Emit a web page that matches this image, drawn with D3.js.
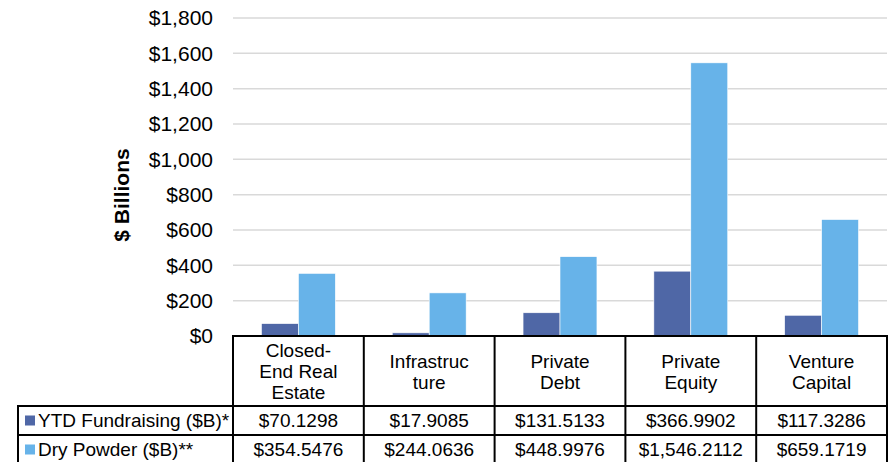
<!DOCTYPE html>
<html>
<head>
<meta charset="utf-8">
<script src="https://cdn.jsdelivr.net/npm/d3@7"></script>
<style>
  html, body { margin: 0; padding: 0; background: #ffffff; }
  svg { display: block; font-family: "Liberation Sans", Arial, sans-serif; }
</style>
</head>
<body>
<svg id="chart" width="892" height="462"></svg>
<script>
// ---- data ----
const categories = ["Closed-End Real Estate", "Infrastructure", "Private Debt", "Private Equity", "Venture Capital"];
const categoryLines = [["Closed-", "End Real", "Estate"], ["Infrastruc", "ture"], ["Private", "Debt"], ["Private", "Equity"], ["Venture", "Capital"]];
const seriesNames = ["YTD Fundraising ($B)*", "Dry Powder ($B)**"];
const ytdFundraising = [70.1298, 17.9085, 131.5133, 366.9902, 117.3286];
const dryPowder = [354.5476, 244.0636, 448.9976, 1546.2112, 659.1719];
const yTicks = [0, 200, 400, 600, 800, 1000, 1200, 1400, 1600, 1800];
const seriesColors = ["#4F67A6", "#67B3E9"];
const yTitle = "$ Billions";

// ---- layout ----
const svg = d3.select("#chart");
const plotLeft = 233, plotRight = 887, plotTop = 18, plotBottom = 336;
const headerBottom = 406, row1Bottom = 435, row2Bottom = 464, legendLeft = 18;

const seriesData = [ytdFundraising, dryPowder];

const x = d3.scaleBand().domain(categories).range([plotLeft, plotRight]).paddingInner(0).paddingOuter(0);
const xs = d3.scaleBand().domain(seriesNames).range([0, x.bandwidth()]).paddingInner(0).paddingOuter(0.77);
const y = d3.scaleLinear().domain([0, 1800]).range([plotBottom, plotTop]);

// gridlines
svg.append("g").selectAll("line").data(yTicks.filter(d => d > 0)).join("line")
  .attr("x1", plotLeft).attr("x2", plotRight)
  .attr("y1", d => y(d)).attr("y2", d => y(d))
  .attr("stroke", "#d9d9d9").attr("stroke-width", 1.5);

// y axis tick labels
const yAxis = d3.axisLeft(y).tickValues(yTicks).tickSize(0).tickPadding(0)
  .tickFormat(d => d3.format("$,")(d));
const gy = svg.append("g").attr("transform", `translate(${plotLeft - 20},0)`).call(yAxis);
gy.select(".domain").remove();
gy.selectAll("text").attr("font-size", 21).attr("fill", "#000")
  .attr("font-family", "'Liberation Sans', Arial, sans-serif");

// y title
svg.append("text")
  .attr("transform", `translate(129,195) rotate(-90)`)
  .attr("text-anchor", "middle")
  .attr("font-size", 21).attr("font-weight", "bold").attr("fill", "#000")
  .text(yTitle);

// bars
const barG = svg.append("g");
seriesNames.forEach((s, si) => {
  barG.append("g").selectAll("rect").data(categories).join("rect")
    .attr("x", c => x(c) + xs(s))
    .attr("width", xs.bandwidth())
    .attr("y", (c, i) => y(seriesData[si][i]))
    .attr("height", (c, i) => y(0) - y(seriesData[si][i]))
    .attr("fill", seriesColors[si])
    .attr("stroke", "#ffffff").attr("stroke-width", 0.6);
});

// ---- data table ----
const tg = svg.append("g");
const lineAttr = sel => sel.attr("stroke", "#000").attr("stroke-width", 2);

// baseline / header top
tg.append("line").attr("x1", plotLeft).attr("x2", plotRight).attr("y1", plotBottom).attr("y2", plotBottom).call(lineAttr);
// row separators
[headerBottom, row1Bottom].forEach(yy => {
  tg.append("line").attr("x1", legendLeft - 1).attr("x2", plotRight + 1).attr("y1", yy).attr("y2", yy).call(lineAttr);
});
// column verticals
const colEdges = categories.map(c => x(c)).concat([plotRight]);
tg.selectAll(".vcol").data(colEdges).join("line")
  .attr("x1", d => d).attr("x2", d => d)
  .attr("y1", plotBottom - 1).attr("y2", row2Bottom)
  .call(lineAttr);
// legend left edge
tg.append("line").attr("x1", legendLeft).attr("x2", legendLeft).attr("y1", headerBottom - 1).attr("y2", row2Bottom).call(lineAttr);

// header text
const lineH = 21;
const tableFont = 19;
categories.forEach((c, i) => {
  const lines = categoryLines[i];
  const cy = (plotBottom + headerBottom) / 2;
  const startY = cy - (lines.length - 1) * lineH / 2;
  const t = tg.append("text")
    .attr("text-anchor", "middle").attr("font-size", tableFont).attr("fill", "#000")
    .attr("dominant-baseline", "central");
  lines.forEach((ln, j) => {
    t.append("tspan").attr("x", x(c) + x.bandwidth() / 2).attr("y", startY + j * lineH).text(ln);
  });
});

// value rows
const rowCenters = [(headerBottom + row1Bottom) / 2, (row1Bottom + 462 + 2) / 2];
const fmt = d3.format("$,.4f");
seriesNames.forEach((s, si) => {
  tg.append("g").selectAll("text").data(categories).join("text")
    .attr("x", c => x(c) + x.bandwidth() / 2)
    .attr("y", rowCenters[si])
    .attr("text-anchor", "middle").attr("dominant-baseline", "central")
    .attr("font-size", tableFont).attr("fill", "#000")
    .text((c, i) => fmt(seriesData[si][i]));
  // legend key
  tg.append("rect").attr("x", 25).attr("y", rowCenters[si] - 5).attr("width", 10).attr("height", 10)
    .attr("fill", seriesColors[si]);
  tg.append("text").attr("x", 38).attr("y", rowCenters[si])
    .attr("dominant-baseline", "central").attr("font-size", tableFont).attr("fill", "#000")
    .text(s);
});
</script>
</body>
</html>
